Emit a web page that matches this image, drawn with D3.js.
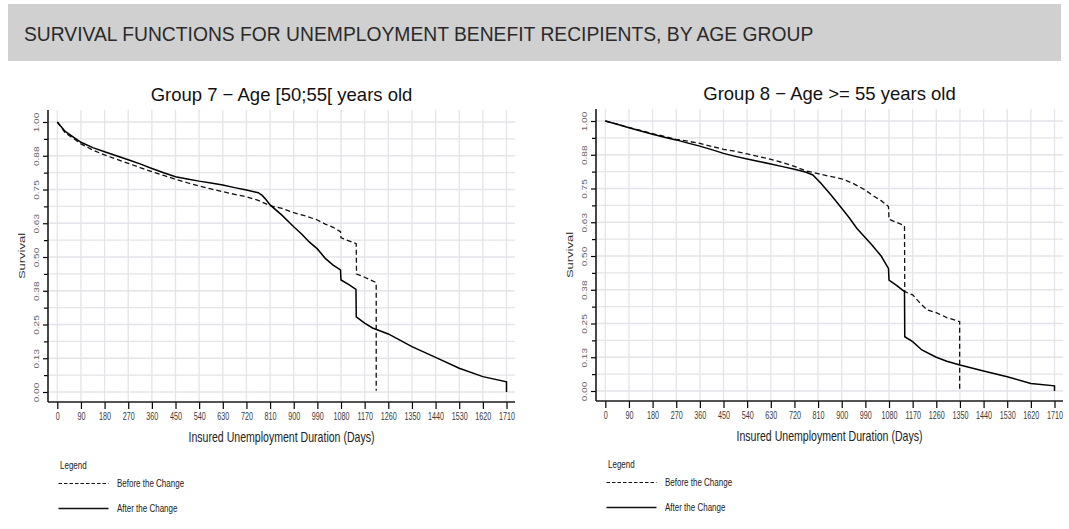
<!DOCTYPE html>
<html>
<head>
<meta charset="utf-8">
<script src="https://cdn.jsdelivr.net/npm/d3@7"></script>
<style>
  html, body { margin: 0; padding: 0; background: #fff; }
  svg { display: block; font-family: "Liberation Sans", Arial, Helvetica, sans-serif; }
</style>
</head>
<body>
<svg id="chart" width="1069" height="529"></svg>
<script>
// ---- Data -------------------------------------------------------------
const pageTitle = "SURVIVAL FUNCTIONS FOR UNEMPLOYMENT BENEFIT RECIPIENTS, BY AGE GROUP";
const panelTitles = ["Group 7 \u2212 Age [50;55[ years old", "Group 8 \u2212 Age >= 55 years old"];
const xAxisTitle = "Insured Unemployment Duration (Days)";
const yAxisTitle = "Survival";
const legendTitle = "Legend";
const seriesNames = ["Before the Change", "After the Change"];

const xTicks = [0, 90, 180, 270, 360, 450, 540, 630, 720, 810, 900, 990, 1080, 1170, 1260, 1350, 1440, 1530, 1620, 1710];
const xTickLabels = ["0", "90", "180", "270", "360", "450", "540", "630", "720", "810", "900", "990", "1080", "1170", "1260", "1350", "1440", "1530", "1620", "1710"];
const yTicks = [0, 0.125, 0.25, 0.375, 0.5, 0.625, 0.75, 0.875, 1];
const yTickLabels = ["0.00", "0.13", "0.25", "0.38", "0.50", "0.63", "0.75", "0.88", "1.00"];
const yMinorTicks = [0.0625, 0.1875, 0.3125, 0.4375, 0.5625, 0.6875, 0.8125, 0.9375];

// [days, survival]
const before7 = [[0,1.0],[30,0.96],[60,0.94],[90,0.919],[135,0.896],[180,0.878],[225,0.862],[270,0.847],[315,0.831],[360,0.816],[405,0.802],[450,0.788],[495,0.775],[540,0.763],[585,0.752],[630,0.742],[675,0.732],[720,0.723],[765,0.71],[810,0.69],[855,0.68],[900,0.664],[945,0.652],[990,0.637],[1020,0.622],[1050,0.61],[1078,0.594],[1080,0.571],[1110,0.56],[1138,0.549],[1139,0.437],[1170,0.425],[1214,0.405],[1214,0.005]];
const after7 = [[0,1.0],[30,0.965],[60,0.945],[90,0.925],[135,0.905],[180,0.89],[225,0.875],[270,0.86],[315,0.845],[360,0.828],[405,0.812],[450,0.797],[495,0.789],[540,0.781],[585,0.774],[630,0.767],[675,0.757],[720,0.748],[765,0.738],[780,0.728],[795,0.712],[810,0.693],[855,0.655],[900,0.612],[930,0.585],[960,0.555],[990,0.53],[1020,0.495],[1050,0.47],[1078,0.452],[1080,0.415],[1110,0.398],[1137,0.38],[1138,0.278],[1170,0.255],[1200,0.237],[1260,0.215],[1350,0.168],[1440,0.128],[1530,0.088],[1620,0.057],[1710,0.038],[1710,0.0]];
const before8 = [[0,1.0],[45,0.988],[90,0.976],[135,0.965],[180,0.953],[225,0.943],[270,0.932],[315,0.925],[360,0.917],[405,0.906],[450,0.895],[495,0.888],[540,0.878],[585,0.868],[630,0.858],[675,0.846],[720,0.832],[765,0.815],[810,0.805],[855,0.795],[900,0.786],[945,0.768],[990,0.744],[1015,0.726],[1050,0.705],[1078,0.683],[1080,0.636],[1110,0.624],[1139,0.612],[1140,0.368],[1170,0.356],[1199,0.325],[1225,0.3],[1260,0.29],[1300,0.272],[1349,0.257],[1349,0.0]];
const after8 = [[0,1.0],[45,0.988],[90,0.975],[135,0.963],[180,0.951],[225,0.94],[270,0.93],[315,0.918],[360,0.907],[405,0.894],[450,0.88],[495,0.869],[540,0.859],[585,0.85],[630,0.841],[675,0.831],[720,0.821],[765,0.81],[790,0.80],[820,0.77],[860,0.725],[900,0.677],[930,0.64],[958,0.602],[990,0.568],[1015,0.541],[1050,0.5],[1078,0.454],[1080,0.411],[1110,0.39],[1139,0.368],[1140,0.201],[1170,0.183],[1205,0.152],[1260,0.125],[1300,0.11],[1350,0.096],[1440,0.074],[1530,0.053],[1620,0.028],[1710,0.019],[1710,0.0]];

const panels = [
  { title: panelTitles[0], before: before7, after: after7, dx: 0, dy: 0 },
  { title: panelTitles[1], before: before8, after: after8, dx: 548, dy: -1 }
];

// ---- Layout -----------------------------------------------------------
const frame = { left: 48, right: 515, top: 110, bottom: 402 };
const xRange = [57.3, 506.5];
const yRange = [392, 122];
const dashPattern = "5,3";

const svg = d3.select("#chart");

// Header banner
svg.append("rect")
  .attr("x", 8).attr("y", 4).attr("width", 1053).attr("height", 57)
  .attr("fill", "#d0d0d0");
svg.append("text")
  .attr("x", 24).attr("y", 41)
  .attr("font-size", 19.3)
  .attr("fill", "#2a2a2a")
  .text(pageTitle);

function drawPanel(p) {
  const g = svg.append("g").attr("transform", `translate(${p.dx},${p.dy})`);
  const x = d3.scaleLinear().domain([0, 1710]).range(xRange);
  const y = d3.scaleLinear().domain([0, 1]).range(yRange);

  // grid
  const grid = g.append("g").attr("stroke", "#e4e4ea").attr("stroke-width", 1.3);
  grid.selectAll("line.v").data(xTicks).join("line")
    .attr("class", "v")
    .attr("x1", d => x(d)).attr("x2", d => x(d))
    .attr("y1", frame.top).attr("y2", frame.bottom);
  grid.selectAll("line.h").data(yTicks.concat(yMinorTicks)).join("line")
    .attr("class", "h")
    .attr("x1", frame.left).attr("x2", frame.right)
    .attr("y1", d => y(d)).attr("y2", d => y(d));

  // curves
  const line = d3.line().x(d => x(d[0])).y(d => y(d[1]));
  g.append("path").datum(p.before)
    .attr("d", line).attr("fill", "none")
    .attr("stroke", "#111").attr("stroke-width", 1.3)
    .attr("stroke-dasharray", dashPattern);
  g.append("path").datum(p.after)
    .attr("d", line).attr("fill", "none")
    .attr("stroke", "#000").attr("stroke-width", 1.5);

  // x axis
  const xAxis = g.append("g")
    .attr("transform", `translate(0,${frame.bottom})`)
    .call(d3.axisBottom(x).tickValues(xTicks).tickFormat((d, i) => xTickLabels[i])
      .tickSize(7).tickSizeOuter(0).tickPadding(4.4));
  xAxis.select(".domain").remove();
  xAxis.selectAll(".tick line").attr("stroke", "#000").attr("stroke-width", 1.2);
  xAxis.selectAll(".tick text")
    .attr("font-family", "Liberation Sans, Arial, sans-serif")
    .attr("font-size", 10).attr("fill", "#3a3a3a")
    .attr("transform", "scale(0.72,1)");

  // y axis (major + minor ticks)
  const yAxis = g.append("g")
    .attr("transform", `translate(${frame.left},0)`)
    .call(d3.axisLeft(y).tickValues(yTicks).tickFormat((d, i) => yTickLabels[i]).tickSize(5).tickSizeOuter(0));
  yAxis.select(".domain").remove();
  yAxis.selectAll(".tick line").attr("stroke", "#000").attr("stroke-width", 1.2);
  yAxis.selectAll(".tick text")
    .attr("x", null).attr("dy", null)
    .attr("text-anchor", "middle")
    .attr("font-family", "Liberation Sans, Arial, sans-serif")
    .attr("font-size", 10).attr("fill", "#666")
    .attr("transform", "translate(-9.5,0) scale(0.75,1) rotate(-90)");
  const yMinor = g.append("g")
    .attr("transform", `translate(${frame.left},0)`)
    .call(d3.axisLeft(y).tickValues(yMinorTicks).tickFormat("").tickSize(4).tickSizeOuter(0));
  yMinor.select(".domain").remove();
  yMinor.selectAll(".tick line").attr("stroke", "#000").attr("stroke-width", 1.2);

  // frame lines
  g.append("line")
    .attr("x1", frame.left).attr("x2", frame.left)
    .attr("y1", frame.top).attr("y2", frame.bottom)
    .attr("stroke", "#1a1a1a").attr("stroke-width", 1.6);
  g.append("line")
    .attr("x1", frame.left).attr("x2", frame.right)
    .attr("y1", frame.bottom).attr("y2", frame.bottom)
    .attr("stroke", "#1a1a1a").attr("stroke-width", 1.6);

  const cx = (frame.left + frame.right) / 2;

  // titles
  g.append("text")
    .attr("x", cx).attr("y", 101)
    .attr("text-anchor", "middle")
    .attr("font-size", 18.5).attr("fill", "#111")
    .text(p.title);
  g.append("text")
    .attr("text-anchor", "middle")
    .attr("transform", `translate(${cx},441.5) scale(0.755,1)`)
    .attr("font-size", 14).attr("fill", "#222")
    .text(xAxisTitle);
  g.append("text")
    .attr("text-anchor", "middle")
    .attr("transform", `translate(24.5,${(frame.top + frame.bottom) / 2}) scale(0.75,1) rotate(-90)`)
    .attr("font-size", 13).attr("fill", "#333")
    .text(yAxisTitle);

  // legend
  const lg = g.append("g");
  lg.append("text")
    .attr("transform", "translate(60,468.5) scale(0.8,1)")
    .attr("font-size", 10).attr("fill", "#222")
    .text(legendTitle);
  const rows = [
    { name: seriesNames[0], dash: "3.5,2", w: 1.2, cy: 483.5 },
    { name: seriesNames[1], dash: null, w: 1.4, cy: 508.5 }
  ];
  rows.forEach(r => {
    lg.append("line")
      .attr("x1", 58.5).attr("x2", 108.5)
      .attr("y1", r.cy).attr("y2", r.cy)
      .attr("stroke", "#111").attr("stroke-width", r.w)
      .attr("stroke-dasharray", r.dash);
    lg.append("text")
      .attr("transform", `translate(117,${r.cy + 3.5}) scale(0.8,1)`)
      .attr("font-size", 10).attr("fill", "#222")
      .text(r.name);
  });
}

panels.forEach(drawPanel);
</script>
</body>
</html>
